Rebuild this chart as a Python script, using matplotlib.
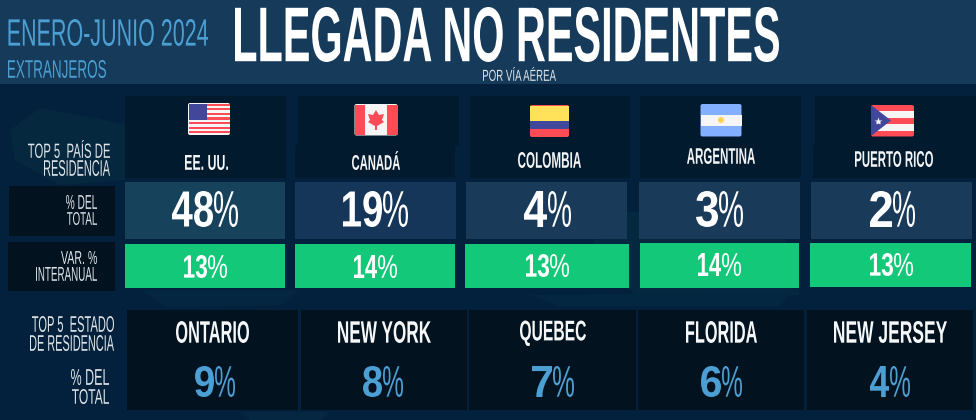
import matplotlib
matplotlib.use("Agg")
import matplotlib.pyplot as plt
import numpy as np
from matplotlib.patches import Rectangle, FancyBboxPatch, Polygon
from matplotlib.text import Text
from matplotlib.textpath import TextPath
from matplotlib.transforms import Affine2D, Bbox

# ---------- data ----------
countries = ["EE. UU.", "CANADÁ", "COLOMBIA", "ARGENTINA", "PUERTO RICO"]
country_share = [48, 19, 4, 3, 2]
country_var = [13, 14, 13, 14, 13]
states = ["ONTARIO", "NEW YORK", "QUEBEC", "FLORIDA", "NEW JERSEY"]
state_share = [9, 8, 7, 6, 4]

# ---------- colours ----------
HEADER = "#153a5a"
BODY = "#03213c"
DARK = "#021a2e"
DARKER = "#02121f"
GREEN = "#13c878"
BLUE = "#4c9fd3"
WHITE = "#ffffff"
GREY = "#dfe4e8"
FAMILY = ["Liberation Sans Narrow", "Liberation Sans"]


class FittedText(Text):
    """Real text that is drawn condensed to fit a given ink box."""

    def __init__(self, s, x0, x1, y0, y1, color, weight="normal"):
        super().__init__(x0, y1, s, color=color, family=FAMILY, weight=weight,
                         ha="left", va="baseline")
        self.box = (x0, x1, y0, y1)
        probe = TextPath((0, 0), s, prop=self.get_fontproperties(), size=10)
        self.outline = probe
        self.ink = probe.get_extents()
        # nominal size: the size at which the natural line width fills the box
        self.set_fontsize(10 * (x1 - x0) * 72 / 100 / self.ink.width * 0.97)

    def _display_box(self):
        x0, x1, y0, y1 = self.box
        tr = self.get_transform()
        (a, b), (c, d) = tr.transform([(x0, y1), (x1, y0)])
        return a, b, c, d

    def get_window_extent(self, renderer=None, dpi=None):
        a, b, c, d = self._display_box()
        return Bbox([[a, b], [c, d]])

    def draw(self, renderer):
        a, b, c, d = self._display_box()
        ink = self.ink
        tr = (Affine2D().translate(-ink.x0, -ink.y0)
              .scale((c - a) / ink.width, (d - b) / ink.height)
              .translate(a, b))
        gc = renderer.new_gc()
        gc.set_linewidth(0)
        face = matplotlib.colors.to_rgba(self.get_color())
        renderer.draw_path(gc, self.outline, tr, face)
        gc.restore()


fig = plt.figure(figsize=(9.76, 4.20), dpi=100, facecolor=BODY)
ax = fig.add_axes([0, 0, 1, 1])
ax.set_xlim(0, 976)
ax.set_ylim(420, 0)
ax.axis("off")


def box(x0, x1, y0, y1, color, alpha=1.0, z=2):
    ax.add_patch(Rectangle((x0, y0), x1 - x0, y1 - y0, fc=color, ec="none", alpha=alpha, zorder=z))


def label(s, x0, x1, y0, y1, color=GREY, weight="normal"):
    t = FittedText(s, x0, x1, y0, y1, color, weight)
    t.set_zorder(6)
    ax.add_artist(t)
    return t


def pct(v, x0, xm, x1, y0, y1, color=WHITE, weight="bold"):
    label(f"{v}", x0, xm, y0, y1, color, weight)
    label("%", xm + 1, x1, y0, y1, color, "normal")


def rounded(x0, x1, y0, y1, color, z=4):
    p = FancyBboxPatch((x0 + 1, y0 + 1), x1 - x0 - 2, y1 - y0 - 2, boxstyle="round,pad=1,rounding_size=2",
                       fc=color, ec="none", zorder=z)
    ax.add_patch(p)
    return p


# ---------- background ----------
box(0, 976, 0, 84, HEADER, z=1)
for pts, col in [
    ([(10, 130), (40, 108), (95, 118), (125, 125), (125, 180), (60, 185), (15, 160)], "#06283f"),
    ([(600, 215), (700, 205), (780, 215), (800, 295), (650, 305), (590, 260)], "#052841"),
    ([(140, 290), (300, 290), (280, 305), (170, 308)], "#042640"),
    ([(530, 295), (790, 292), (780, 306), (560, 306)], "#042741"),
    ([(240, 412), (330, 412), (320, 420), (250, 420)], "#052742"),
]:
    ax.add_patch(Polygon(pts, closed=True, fc=col, ec="none", zorder=1))

# ---------- header ----------
label("ENERO-JUNIO 2024", 8.5, 208, 19, 46, BLUE)
label("EXTRANJEROS", 8, 106, 60, 78, BLUE)
label("LLEGADA NO RESIDENTES", 235, 779, 7, 62, WHITE, "bold")
label("POR VÍA AÉREA", 483, 556, 67, 81, GREY)

# ---------- top table ----------
flag_cols = [(125, 286), (298, 459), (470, 630), (640, 801), (815, 976)]
name_cols = [(125, 286), (295, 455), (470, 630), (640, 801), (813, 976)]
share_cols = [(125, 285), (295, 456), (466, 627), (639, 800), (811, 972)]
green_boxes = [(125, 284.5, 243.5, 288), (295, 455, 243.5, 288), (465, 629, 243.5, 288),
               (640, 799, 242.5, 288), (810, 971, 242.5, 287)]
share_fill = ["#17425c", "#153658", "#1a3a59", "#1a3a59", "#1a3a59"]
for (a, b), (c, d) in zip(flag_cols, name_cols):
    box(a, b, 96, 145, DARK)
    box(c, d, 145, 178, DARK)
for (a, b), col in zip(share_cols, share_fill):
    box(a, b, 182, 239, col)
for (a, b, c, d) in green_boxes:
    box(a, b, c, d, GREEN)

box(9, 115, 186, 236, DARKER)
box(8, 115, 242, 291, DARKER)

label("TOP 5  PAÍS DE", 28, 110, 140, 158)
label("RESIDENCIA", 44, 110, 160, 176)
label("% DEL", 66, 97, 195, 209)
label("TOTAL", 67, 97, 212, 225)
label("VAR. %", 61, 97, 251, 264)
label("INTERANUAL", 36, 97, 267, 281)

name_ink = [(185, 228, 155, 170), (352, 400, 151, 170), (518, 581, 152, 168),
            (687, 755, 148, 164), (855, 933, 151, 167)]
for s, (a, b, c, d) in zip(countries, name_ink):
    label(s, a, b, c, d, "#f2f4f6", "bold")

share_ink = [(172, 213, 238), (343, 382, 408), (524, 547, 571), (696, 718, 743), (870, 892, 915)]
for v, (a, m, b) in zip(country_share, share_ink):
    pct(v, a, m, b, 191, 227)

var_ink = [(184, 207, 227, 255, 278), (354, 377, 397, 255, 278), (526, 549, 569, 254, 277),
           (698, 721, 741, 253, 276), (870, 893, 913, 253, 276)]
for v, (a, m, b, c, d) in zip(country_var, var_ink):
    pct(v, a, m, b, c, d)

# ---------- flags ----------
# United States
rounded(188, 230, 103, 135, "#f5f5f5")
for i in range(0, 7):
    box(188.5, 229.5, 103.5 + i * 4.6, 103.5 + i * 4.6 + 2.3, "#ff4b55", z=5)
box(188.5, 207, 104, 120, "#41479b", z=5)
# Canada
rounded(354.5, 397.5, 104, 135.5, "#f5f5f5")
box(354.5, 365, 104.5, 135, "#ff4b55", z=5)
box(387, 397.5, 104.5, 135, "#ff4b55", z=5)
ax.add_patch(Polygon([(376, 110), (379, 115), (384, 114), (382, 120), (384, 122), (377, 126), (377, 130),
                      (375, 130), (375, 126), (368, 122), (370, 120), (368, 114), (373, 115)],
                     closed=True, fc="#ff4b55", ec="none", zorder=5))
# Colombia
rounded(530, 569, 105, 137, "#ff4b55")
box(530, 569, 105.5, 121, "#ffe15a", z=5)
box(530, 569, 121, 129, "#41479b", z=5)
# Argentina
rounded(700.5, 741.5, 104, 136.5, "#82afff")
box(700.5, 741.5, 115, 125.5, "#f5f5f5", z=5)
ax.add_patch(plt.Circle((721, 120), 3, fc="#ffd250", ec="none", zorder=5.5))
# Puerto Rico
rounded(871, 914, 105, 136.5, "#ff4b55")
box(871, 914, 111, 118, "#f5f5f5", z=5)
box(871, 914, 124, 130.5, "#f5f5f5", z=5)
ax.add_patch(Polygon([(871, 105), (891, 120.5), (871, 136)], closed=True, fc="#41479b", ec="none", zorder=5.2))
ax.plot([877.5], [121], marker="*", ms=6, mfc="#f5f5f5", mec="none", zorder=5.5)

# ---------- bottom table ----------
state_cols = [(127, 298), (301, 467), (469, 636), (638, 804), (807, 973)]
for a, b in state_cols:
    box(a, b, 310, 410, DARKER)

label("TOP 5  ESTADO", 32, 114, 316, 332)
label("DE RESIDENCIA", 30, 114, 335, 351)
label("% DEL", 71, 109, 369, 385)
label("TOTAL", 72, 109, 389, 404)

state_ink = [(176, 249, 321, 343), (338, 431, 321, 343), (520, 586, 320.5, 346),
             (686, 757, 321, 343), (834, 947, 321, 343)]
for s, (a, b, c, d) in zip(states, state_ink):
    label(s, a, b, c, d, "#f6f7f8", "bold")

sshare_ink = [(195, 214, 235), (363, 382, 403), (532, 552, 574), (701, 721, 742), (870, 889, 910)]
for v, (a, m, b) in zip(state_share, sshare_ink):
    pct(v, a, m, b, 366, 397, BLUE)

fig.savefig("out.png", dpi=100, facecolor=fig.get_facecolor())
